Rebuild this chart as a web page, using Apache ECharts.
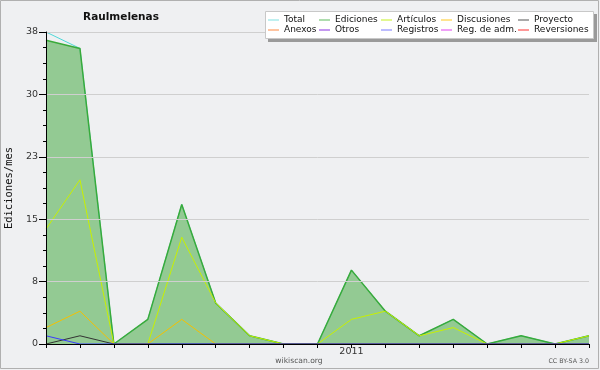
<!DOCTYPE html>
<html><head><meta charset="utf-8">
<script src="https://cdn.jsdelivr.net/npm/echarts@6/dist/echarts.min.js"></script>
<style>html,body{margin:0;padding:0;background:#eff0f2}#c{width:600px;height:370px}</style>
</head><body><div id="c"></div>
<script>
const months = ['2010-04','2010-05','2010-06','2010-07','2010-08','2010-09','2010-10','2010-11','2010-12','2011-01','2011-02','2011-03','2011-04','2011-05','2011-06','2011-07','2011-08'];
const total      = [38,36,0,3,17,5,1,0,0,9,4,1,3,0,1,0,1];
const ediciones  = [37,36,0,3,17,5,1,0,0,9,4,1,3,0,1,0,1];
const articulos  = [14,20,0,0,13,5,1,0,0,3,4,1,2,0,0,0,1];
const discusiones= [2,4,0,0,3,0,0,0,0,0,0,0,0,0,0,0,0];
const proyecto   = [0,1,0,0,0,0,0,0,0,0,0,0,0,0,0,0,0];
const registros  = [1,0,0,0,0,0,0,0,0,0,0,0,0,0,0,0,0];
const yTicks = [0,8,15,23,30,38];

const colors = {
  'Total':'#7fe0e0','Ediciones':'#5cba5c','Artículos':'#c4f020','Discusiones':'#ffc820','Proyecto':'#555555',
  'Anexos':'#ff8840','Otros':'#8830e0','Registros':'#7878ff','Reg. de adm.':'#e040f0','Reversiones':'#ff3030'
};
const legendCols = [['Total','Anexos'],['Ediciones','Otros'],['Artículos','Registros'],['Discusiones','Reg. de adm.'],['Proyecto','Reversiones']];
const legendX = [268,319,381,441,518];

const lf = '"DejaVu Sans",sans-serif';
function line(name, data, color, z, w){
  return {name, type:'line', data, symbol:'none', z, lineStyle:{color, width:w||1}, itemStyle:{color}};
}
const series = [
  {name:'Ediciones', type:'line', data:ediciones, symbol:'none', z:1, lineStyle:{width:0}, itemStyle:{color:colors['Ediciones']}, areaStyle:{color:'#93ca93', opacity:1}, silent:true},
  line('Total', total, '#4fd8d8', 2),
  {name:'Ediciones', type:'line', data:ediciones, symbol:'none', z:3, lineStyle:{color:'#3aaa3a', width:1.5}, itemStyle:{color:colors['Ediciones']}},
  line('Artículos', articulos, '#c8f000', 4),
  line('Discusiones', discusiones, '#f5c000', 4),
  line('Proyecto', proyecto, '#333333', 4),
  line('Registros', registros, '#3a3aff', 4),
  line('Anexos', [], colors['Anexos'], 4),
  line('Otros', [], colors['Otros'], 4),
  line('Reg. de adm.', [], colors['Reg. de adm.'], 4),
  line('Reversiones', [], colors['Reversiones'], 4)
];

const legends = legendCols.map((names,i)=>({
  orient:'vertical', left:legendX[i], top:15, padding:0, itemGap:0,
  itemWidth:11, itemHeight:1, icon:'rect', selectedMode:false, z:20,
  data:names.map(n=>({name:n, itemStyle:{color:colors[n]}})),
  textStyle:{fontFamily:lf, fontSize:9, lineHeight:10, color:'#111', padding:[0,0,0,0]}
}));

const chart = echarts.init(document.getElementById('c'));
chart.setOption({
  backgroundColor:'#eff0f2',
  animation:false,
  grid:{left:46, right:11, top:32, bottom:26},
  legend:legends,
  graphic:[
    {type:'rect', shape:{x:0.5,y:0.5,width:598,height:368}, style:{fill:'none', stroke:'#b0b0b0', lineWidth:1}, z:0, silent:true},
    {type:'rect', shape:{x:268,y:14,width:329,height:28}, style:{fill:'#9a9a9a'}, z:10, silent:true},
    {type:'rect', shape:{x:265.5,y:11.5,width:328,height:27}, style:{fill:'#ffffff', stroke:'#c8c8c8', lineWidth:1}, z:11, silent:true},
    {type:'text', x:121, y:17, style:{text:'Raulmelenas', font:'bold 10.5px "DejaVu Sans",sans-serif', fill:'#111', align:'center', verticalAlign:'middle'}, z:12},
    {type:'text', x:299, y:361, style:{text:'wikiscan.org', font:'7.6px "DejaVu Sans",sans-serif', fill:'#555', align:'center', verticalAlign:'middle'}, z:12},
    {type:'text', x:589, y:361, style:{text:'CC BY-SA 3.0', font:'6.3px "DejaVu Sans",sans-serif', fill:'#555', align:'right', verticalAlign:'middle'}, z:12},
    {type:'text', rotation:Math.PI/2, x:9, y:188, style:{text:'Ediciones/mes', font:'10.5px "DejaVu Sans Mono",monospace', fill:'#111', align:'center', verticalAlign:'middle'}, z:12}
  ],
  xAxis:{
    type:'category', data:months, boundaryGap:false, z:10,
    axisLine:{lineStyle:{color:'#000', width:1}},
    axisTick:{show:true, interval:0, length:4, inside:false, lineStyle:{color:'#000'}},
    axisLabel:{interval:0, fontSize:9.5, color:'#333', fontFamily:lf, margin:3,
      formatter:(v)=> v.endsWith('-01') ? v.slice(0,4) : ''},
    splitLine:{show:false}
  },
  yAxis:{
    type:'value', min:0, max:38, interval:7.6, z:10,
    axisLine:{show:true, lineStyle:{color:'#000'}},
    axisTick:{show:true, length:7, lineStyle:{color:'#000'}},
    minorTick:{show:true, splitNumber:4, length:3, lineStyle:{color:'#000'}},
    axisLabel:{fontSize:9.5, color:'#333', fontFamily:lf, margin:8,
      formatter:(v)=>{ const i=Math.round(v/7.6); return String(yTicks[i]); }},
    splitLine:{show:true, lineStyle:{color:'#cfcfcf', width:1}}
  },
  series
});
</script></body></html>
